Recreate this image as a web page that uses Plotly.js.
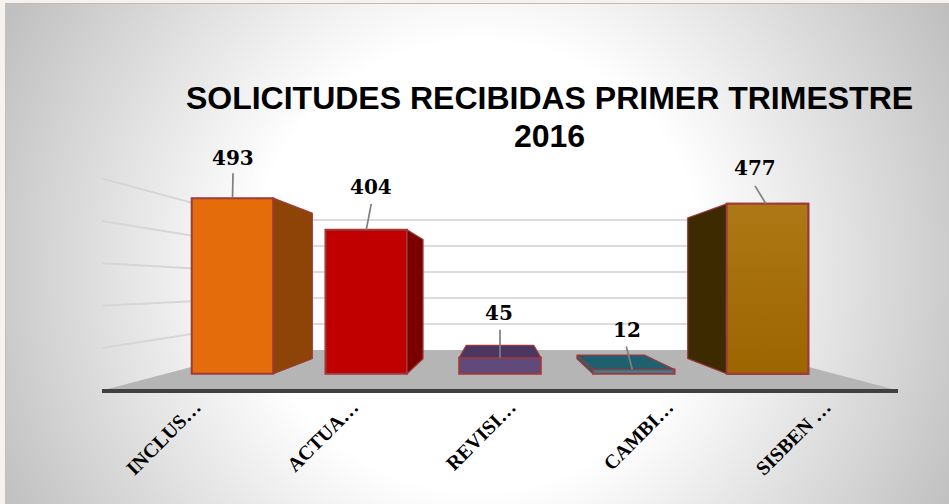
<!DOCTYPE html>
<html>
<head>
<meta charset="utf-8">
<script src="https://cdn.plot.ly/plotly-3.0.1.min.js"></script>
<style>
html,body{margin:0;padding:0;width:949px;height:504px;overflow:hidden;background:#f6f2f0;}
#bg{position:absolute;left:5px;top:3px;width:944px;height:501px;border-top:1px solid #bdbab7;border-left:1px solid #c0c0c0;box-sizing:border-box;
background:radial-gradient(circle 534px at 472px 262px,#ffffff 0%,#ffffff 42%,#bfbfbf 100%);}
#chart{position:absolute;left:0;top:0;width:949px;height:504px;}
</style>
</head>
<body>
<div id="bg"></div>
<div id="chart"></div>
<script>
const categories = ['INCLUS…','ACTUA…','REVISI…','CAMBI…','SISBEN …'];
const values = [493, 404, 45, 12, 477];
const frontColors = ['#E46C0A','#C00000','#604A7B','#31859C','#A5700E'];
const sideColors = ['#8F4407','#7A0000','#4A3660','#1F6070','#3E2A00'];
const gridLevels = [0,100,200,300,400,500];
const labelOffsets = [[0.5,-40],[5,-43],[-1,-45],[-6.5,-39],[-12.5,-36]];
const leaderStart = [0,0,0,-1.5,-1.5];
const leaderEnd = [[0.5,25],[5,26],[0,28],[-7.5,23],[-12.5,18]];
const titleText = 'SOLICITUDES RECIBIDAS PRIMER TRIMESTRE<br>2016';

const W = 949, H = 504;
const plotL = 102, plotR = 898, plotB = 389.25, plotT = 120;
const pxPerCat = 133.75, pxCenter = 500, base = 374, pxPerVal = 0.3565;
const vpX = 2, vpY = 247, backBar = 0.828, wallS = 0.73, floorS = 1.193;
const barW = 0.61, border = '#9E3A3A';

const px = (s, x) => vpX + (x - vpX) * s;
const py = (s, v) => vpY + (v - vpY) * s;
const xRange = [(plotL - pxCenter) / pxPerCat + vpX, (plotR - pxCenter) / pxPerCat + vpX];
const yRange = [-(plotB - base) / pxPerVal, (base - plotT) / pxPerVal];

const traces = [{
  type: 'bar', x: categories.map((_, i) => i), y: values, width: barW,
  marker: {color: frontColors, line: {color: border, width: 2}},
  hoverinfo: 'skip', showlegend: false
}];

function face(xs, ys, color) {
  traces.push({type: 'scatter', mode: 'lines', x: xs.concat(xs[0]), y: ys.concat(ys[0]),
    fill: 'toself', fillcolor: color, line: {color: border, width: 1.2},
    hoverinfo: 'skip', showlegend: false});
}
values.forEach((v, i) => {
  const l = i - barW / 2, r = i + barW / 2;
  const c = sideColors[i];
  if (r < vpX) face([r, px(backBar, r), px(backBar, r), r], [0, py(backBar, 0), py(backBar, v), v], c);
  if (l > vpX) face([l, px(backBar, l), px(backBar, l), l], [0, py(backBar, 0), py(backBar, v), v], c);
  if (v < vpY) face([l, r, px(backBar, r), px(backBar, l)], [v, v, py(backBar, v), py(backBar, v)], c);
});
// soft vertical sheen on the bronze front, as in the reference
(function () {
  const i = 4, v = values[i], l = i - barW / 2, r = i + barW / 2;
  traces.push({type: 'scatter', mode: 'lines', x: [l, r, r, l, l], y: [0, 0, v, v, 0], fill: 'toself',
    fillgradient: {type: 'vertical', colorscale: [[0, '#9C6500'], [1, '#AE7816']]},
    line: {color: border, width: 2}, hoverinfo: 'skip', showlegend: false});
})();

const shapes = [];
const floorPath = 'M' + px(floorS, -0.5) + ',' + py(floorS, 0) + ' L' + px(floorS, 4.5) + ',' + py(floorS, 0) +
  ' L' + px(wallS, 4.5) + ',' + py(wallS, 0) + ' L' + px(wallS, -0.5) + ',' + py(wallS, 0) + ' Z';
gridLevels.slice(1).forEach(g => {
  shapes.push({type: 'line', xref: 'x', yref: 'y', layer: 'below',
    x0: px(wallS, -0.5), x1: px(wallS, 4.5), y0: py(wallS, g), y1: py(wallS, g),
    line: {color: '#DCDCDC', width: 2}});
  shapes.push({type: 'line', xref: 'x', yref: 'y', layer: 'below',
    x0: px(floorS, -0.5), x1: px(wallS, -0.5), y0: py(floorS, g), y1: py(wallS, g),
    line: {color: '#D6D6D6', width: 2}});
});
shapes.push({type: 'path', xref: 'x', yref: 'y', layer: 'below', path: floorPath,
  fillcolor: '#B5B5B5', line: {width: 0}});
values.forEach((v, i) => {
  shapes.push({type: 'line', layer: 'above', xref: 'x', yref: 'y',
    xsizemode: 'pixel', ysizemode: 'pixel', xanchor: i, yanchor: v,
    x0: leaderStart[i], x1: leaderEnd[i][0], y0: 0, y1: leaderEnd[i][1],
    line: {color: '#7F7F7F', width: 1.7}});
});

const annotations = values.map((v, i) => ({
  x: i, y: v, xref: 'x', yref: 'y', text: String(v), showarrow: false,
  xshift: labelOffsets[i][0], yshift: -labelOffsets[i][1], xanchor: 'center', yanchor: 'middle',
  font: {family: 'DejaVu Serif', size: 20, weight: 700, color: '#000'}
}));

const T0 = 195, tickStep = 157.5;
const layout = {
  width: W, height: H, paper_bgcolor: 'rgba(0,0,0,0)', plot_bgcolor: 'rgba(0,0,0,0)',
  margin: {l: plotL, r: W - plotR, t: plotT, b: H - plotB, pad: 0},
  title: {text: titleText, font: {family: 'Liberation Sans', size: 32, weight: 700, color: '#000'},
    x: 549.5 / W, xanchor: 'center', xref: 'container', y: 1 - 109 / H, yref: 'container', yanchor: 'top'},
  showlegend: false,
  xaxis: {range: xRange, visible: false, fixedrange: true},
  yaxis: {range: yRange, visible: false, fixedrange: true},
  xaxis2: {overlaying: 'x', anchor: 'y', side: 'bottom',
    range: [(plotL - T0) / tickStep, (plotR - T0) / tickStep],
    tickmode: 'array', tickvals: categories.map((_, i) => i), ticktext: categories,
    tickangle: -45, ticks: '', showgrid: false, zeroline: false,
    showline: true, linecolor: '#404040', linewidth: 3.5, ticklabelstandoff: -5,
    tickfont: {family: 'Liberation Serif', size: 20, weight: 700, color: '#000'}},
  shapes, annotations
};
traces.push({type: 'scatter', x: [0], y: [0], xaxis: 'x2', yaxis: 'y', mode: 'none', hoverinfo: 'skip', showlegend: false});
Plotly.newPlot('chart', traces, layout, {displayModeBar: false, staticPlot: true}).then(() => {
  const lines = document.querySelectorAll('.gtitle tspan.line');
  if (lines[1]) lines[1].setAttribute('dy', '1.19em');
});
</script>
</body>
</html>
